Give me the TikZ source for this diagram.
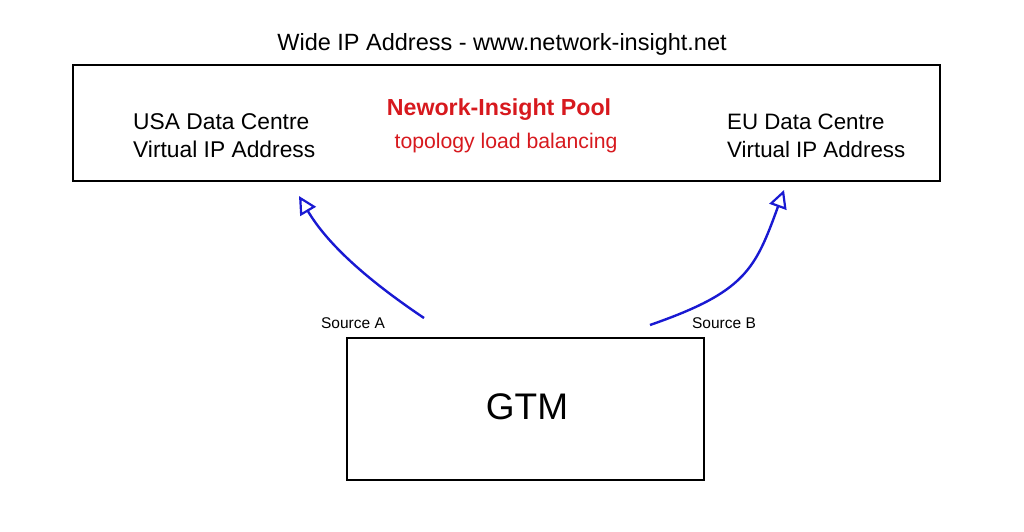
\documentclass[tikz,border=0pt]{standalone}
\usepackage{fontspec}
\setmainfont{Liberation Sans}
\usetikzlibrary{arrows.meta}
\definecolor{arrowblue}{RGB}{25,25,210}
\definecolor{poolred}{RGB}{215,25,30}
\begin{document}
\begin{tikzpicture}[x=1pt,y=-1pt,
  box/.style={draw=black,line width=2pt,fill=white},
  plain/.style={inner sep=0pt,anchor=west,font=\fontsize{22.8}{28}\selectfont,align=left},
  srclabel/.style={inner sep=0pt,font=\fontsize{15.5}{18}\selectfont},
  flow/.style={draw=arrowblue,line width=2.4pt,-{Triangle[open,length=18pt,width=18pt,line width=2.2pt]}}]
\useasboundingbox (0,0) rectangle (1024,532);
\node[box,minimum width=867pt,minimum height=116pt,inner sep=0pt] (pool) at (506.5,123) {};
\node[inner sep=0pt,font=\fontsize{23.5}{28}\selectfont] (title) at (502,44) {Wide IP Address - www.network-insight.net};
\node[plain] (usa) at (133,136) {USA Data Centre\\Virtual IP Address};
\node[plain,font=\fontsize{22.3}{28}\selectfont] (eu) at (727,136) {EU Data Centre\\Virtual IP Address};
\node[inner sep=0pt,text=poolred,font=\fontsize{23.2}{28}\bfseries\selectfont] (poolname) at (499,110) {Nework-Insight Pool};
\node[inner sep=0pt,text=poolred,font=\fontsize{21.2}{25}\selectfont] (topo) at (506,143) {topology load balancing};
\node[box,minimum width=357pt,minimum height=142pt,inner sep=0pt] (gtm) at (525.5,409) {};
\node[inner sep=0pt,font=\fontsize{37}{40}\selectfont] (gtmlabel) at (527,407) {GTM};
\node[srclabel] (srca) at (353,323) {Source A};
\node[srclabel] (srcb) at (724,323) {Source B};
\coordinate (astart) at (424,318);
\coordinate (aend) at (299,196);
\coordinate (bstart) at (650,325);
\coordinate (bend) at (784,190);
\draw[flow] (astart) .. controls (360,275) and (325,240) .. (aend);
\draw[flow] (bstart) .. controls (745,292) and (755,270) .. (bend);
\end{tikzpicture}
\end{document}
